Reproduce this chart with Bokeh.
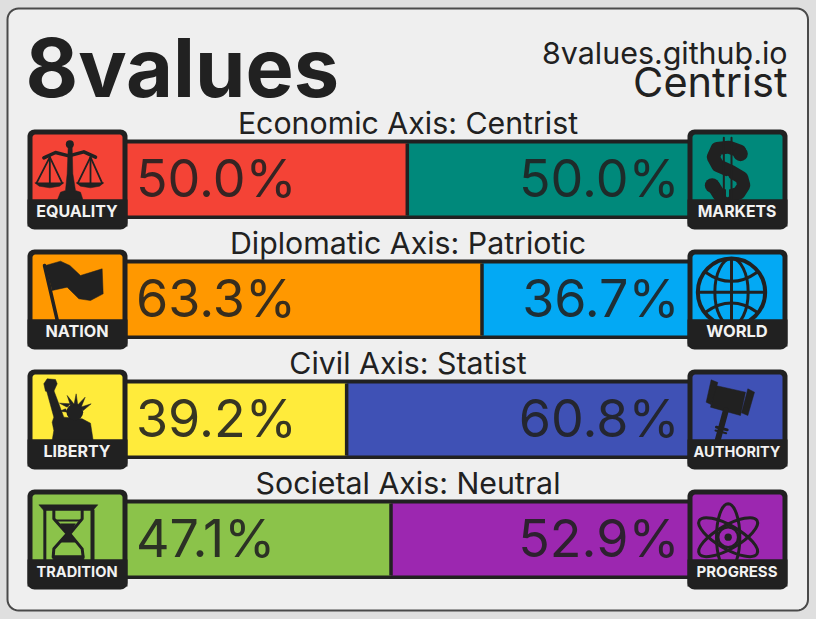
from bokeh.plotting import figure
from bokeh.models import ColumnDataSource, Range1d
from bokeh.core.properties import value
from bokeh.embed import file_html
from bokeh.resources import INLINE
import math

# ---------- data ----------
title = "8values"
site = "8values.github.io"
ideology = "Centrist"
axis_titles = ["Economic Axis: Centrist", "Diplomatic Axis: Patriotic", "Civil Axis: Statist", "Societal Axis: Neutral"]
left_labels = ["EQUALITY", "NATION", "LIBERTY", "TRADITION"]
right_labels = ["MARKETS", "WORLD", "AUTHORITY", "PROGRESS"]
left_values = [50.0, 63.3, 39.2, 47.1]
right_values = [50.0, 36.7, 60.8, 52.9]
left_colors = ["#f44336", "#ff9800", "#ffeb3b", "#8bc34a"]
right_colors = ["#00897b", "#03a9f4", "#3f51b5", "#9c27b0"]
left_label_sizes = [16, 16.2, 16, 14.6]
right_label_sizes = [15.8, 16.5, 14.5, 15]

# ---------- layout ----------
DARK = "#212121"
FONT = "Inter"
BAR0, BAR100 = 126.0, 687.6
ROW = 120
rows = [i * ROW for i in range(4)]
W, H = 816, 619
L, T = 0, 0

p = figure(width=W, height=H, output_backend="svg", toolbar_location=None,
           x_range=Range1d(L, L + W), y_range=Range1d(T + H, T),
           x_axis_type=None, y_axis_type=None, min_border=0,
           background_fill_color="#dfdfdf", border_fill_color="#dfdfdf", outline_line_color=None)
p.grid.visible = False
p.extra_x_ranges["pct"] = Range1d((L - BAR0) / (BAR100 - BAR0) * 100, (L + W - BAR0) / (BAR100 - BAR0) * 100)


def rrect(x0, y0, x1, y1, r, top_only=False):
    xs, ys = [], []
    corners = [(x1 - r, y0 + r, -90), (x1 - r, y1 - r, 0), (x0 + r, y1 - r, 90), (x0 + r, y0 + r, 180)]
    for k, (cx, cy, a) in enumerate(corners):
        rr = 0 if top_only and k in (1, 2) else r
        if rr == 0:
            cx = x1 if k == 1 else x0
            cy = y1
        for s in range(9):
            t = math.radians(a + s * 90 / 8)
            xs.append(cx + rr * math.cos(t))
            ys.append(cy + rr * math.sin(t))
    return xs, ys


# card
cx, cy = rrect(7, 8, 807.5, 610, 11)
p.patch(cx, cy, fill_color="#efefef", line_color="#4a4a4a", line_width=2)

# ---------- bars, from the data ----------
centres = [179 + r for r in rows]
p.quad(left=[BAR0] * 4, right=[BAR100 + 1] * 4, top=[c - 40 for c in centres], bottom=[c + 39.5 for c in centres],
       fill_color=DARK, line_color=None)
src = ColumnDataSource(dict(y=centres, lv=left_values, rv=right_values, start=[0] * 4, end=[100] * 4,
                            lc=left_colors, rc=right_colors))
p.hbar(y="y", left="start", right="lv", height=72, fill_color="lc", line_color=None, source=src, x_range_name="pct")
p.hbar(y="y", left="lv", right="end", height=72, fill_color="rc", line_color=None, source=src, x_range_name="pct")
p.hbar(y="y", left="lv", right="lv", height=72, line_color=DARK, line_width=3.5, source=src, x_range_name="pct")


# ---------- icons ----------
def crop(pts, ox, oy):
    return [ox + a / 3 for a, _ in pts], [oy + b / 3 for _, b in pts]


def poly(pts, ox=0, oy=0, dy=0):
    x, y = crop(pts, ox, oy + dy)
    p.patch(x, y, fill_color=DARK, line_color=DARK, line_width=0.5)


def line(pts, ox=0, oy=0, w=2.0, color=DARK):
    x, y = crop(pts, ox, oy)
    p.line(x, y, line_color=color, line_width=w, line_cap="round", line_join="round")


def ell(cxz, cyz, a, b, ox, oy, angle=0.0, w=2.5, fill=None):
    p.ellipse(x=[ox + cxz / 3], y=[oy + cyz / 3], width=[2 * a / 3], height=[2 * b / 3], angle=[angle],
              fill_color=fill if fill else "#000000", fill_alpha=1 if fill else 0,
              line_color=DARK, line_width=w)


def box(x0, y0, color):
    bx, by = rrect(x0, y0, x0 + 100, y0 + 100, 7)
    p.patch(bx, by, fill_color=DARK, line_color=None)
    ix, iy = rrect(x0 + 5, y0 + 5, x0 + 95, y0 + 70, 3, top_only=True)
    p.patch(ix, iy, fill_color=color, line_color=None)


for i in range(4):
    box(27, 129 + rows[i], left_colors[i])
    box(687, 129 + rows[i], right_colors[i])

# scales
ell(208, 431, 12, 12, 0, 0, w=0, fill=DARK)
poly([(203, 440), (215, 440), (217, 520), (225, 570), (240, 575), (248, 600), (170, 600), (180, 575), (195, 570), (200, 520)])
line([(130, 472), (165, 456), (205, 466), (250, 454), (285, 470)], w=3.5)
for ax, l, r in [(148, 108, 185), (270, 232, 305)]:
    line([(l, 548), (ax, 470), (r, 548)], w=1.8)
    line([(ax, 470), (ax, 548)], w=1.8)
    poly([(l - 5, 547), (r + 5, 547), (r - 8, 557), (ax, 562), (l + 8, 557)])

# dollar
DO = (660, 120)
line([(238, 92), (205, 80), (170, 84), (158, 110), (172, 135), (210, 152), (244, 172), (250, 195), (235, 218), (205, 228),
      (175, 222), (160, 198)], *DO, w=13)
ell(240, 100, 22, 22, *DO, w=0, fill=DARK)
ell(155, 195, 22, 22, *DO, w=0, fill=DARK)
line([(190, 52), (190, 240)], *DO, w=2)
line([(213, 52), (213, 240)], *DO, w=2)
line([(201, 170), (201, 226)], *DO, w=3, color=right_colors[0])

# flag
FO = (10, 240)
poly([(105, 75), (150, 62), (178, 75), (210, 105), (275, 85), (278, 160), (240, 180), (205, 175), (170, 140), (125, 150)], *FO)
line([(102, 75), (140, 238)], *FO, w=3.5)

# globe
ell(213, 515, 101, 101, *DO, w=4)
ell(213, 515, 50, 101, *DO, w=3)
line([(213, 414), (213, 616)], *DO, w=3)
line([(112, 515), (314, 515)], *DO, w=3)
p.quadratic(x0=[660 + 135 / 3], y0=[120 + 455 / 3], x1=[660 + 290 / 3], y1=[120 + 455 / 3],
            cx=[660 + 213 / 3], cy=[120 + 510 / 3], line_color=DARK, line_width=3)
p.quadratic(x0=[660 + 135 / 3], y0=[120 + 575 / 3], x1=[660 + 290 / 3], y1=[120 + 575 / 3],
            cx=[660 + 213 / 3], cy=[120 + 520 / 3], line_color=DARK, line_width=3)

# liberty
poly([(100, 430), (110, 415), (135, 417), (140, 430), (130, 452), (105, 452)], *FO)
poly([(108, 450), (130, 450), (160, 530), (215, 535), (240, 548), (248, 600), (125, 600), (130, 570), (125, 545), (130, 530)], *FO)
ell(193, 515, 25, 25, *FO, w=0, fill=DARK)
for sp in [[(170, 500), (180, 490), (147, 488)], [(180, 495), (190, 490), (170, 465)], [(190, 495), (202, 495), (197, 460)],
           [(200, 495), (212, 500), (224, 470)], [(210, 500), (218, 510), (242, 490)], [(165, 505), (172, 515), (148, 512)]]:
    poly(sp, *FO)

# hourglass
poly([(85, 793), (262, 793), (247, 810), (100, 810)], *FO)
line([(103, 810), (103, 957)], *FO, w=3)
line([(246, 810), (246, 957)], *FO, w=4)
line([(130, 810), (130, 835), (170, 880), (130, 925), (128, 950)], *FO, w=3)
line([(215, 810), (215, 835), (178, 880), (215, 925), (218, 950)], *FO, w=3)
line([(135, 840), (210, 840)], *FO, w=2)
poly([(150, 850), (195, 850), (180, 880), (195, 905), (150, 905), (168, 880)], *FO)
poly([(128, 945), (220, 945), (220, 960), (128, 960)], *FO)

# gavel
GO = (660, 360)
poly([(165, 75), (255, 95), (240, 165), (150, 140)], *GO)
poly([(152, 58), (172, 66), (152, 132), (137, 125)], *GO)
poly([(262, 85), (282, 95), (262, 165), (243, 157)], *GO)
line([(196, 150), (172, 238)], *GO, w=6)
line([(168, 200), (200, 208)], *GO, w=3)
line([(165, 210), (197, 218)], *GO, w=2)

# atom
ell(203, 530, 100, 35, *GO, angle=math.pi / 2, w=3)
ell(203, 530, 100, 35, *GO, angle=math.pi / 6, w=3)
ell(203, 530, 100, 35, *GO, angle=-math.pi / 6, w=3)
ell(203, 530, 30, 30, *GO, w=2.5)
ell(203, 530, 11, 11, *GO, w=0, fill=DARK)

# strips cover what overflows the icon panes
for i in range(4):
    p.quad(left=[27, 687], right=[127, 787], top=[199 + rows[i]] * 2, bottom=[226 + rows[i]] * 2, fill_color=DARK, line_color=None)


# ---------- texts ----------
def txt(x, y, s, size, align="left", color=DARK, style="normal", font=FONT, alpha=1.0, **kw):
    p.text(x=[x], y=[y - 0.38 * size], text=[s], text_font=value(font), text_font_size=f"{size}px", text_font_style=style,
           text_color=color, text_alpha=alpha, text_align=align, text_baseline="alphabetic", **kw)


txt(25, 98, title, 81, style="bold")
txt(787, 64, site, 30.4, align="right")
txt(787, 97, ideology, 41.5, align="right")
for i in range(4):
    txt(407.5, 134 + rows[i], axis_titles[i], 30.3, align="center")
    txt(135.5, 198 + rows[i], f"{left_values[i]:.1f}%", 52, alpha=0.9)
    txt(679, 198 + rows[i], f"{right_values[i]:.1f}%", 52, align="right", alpha=0.9)
    txt(76.5, 217 + rows[i], left_labels[i], left_label_sizes[i], align="center", color="#f2f2f2", style="bold")
    txt(736.5, 217 + rows[i], right_labels[i], right_label_sizes[i], align="center", color="#f2f2f2", style="bold")

html = file_html(p, INLINE)
html = html.replace("<head>", "<head><style>html,body{background:#dfdfdf;margin:0;overflow:hidden}</style>", 1)
open("out.html", "w").write(html)
